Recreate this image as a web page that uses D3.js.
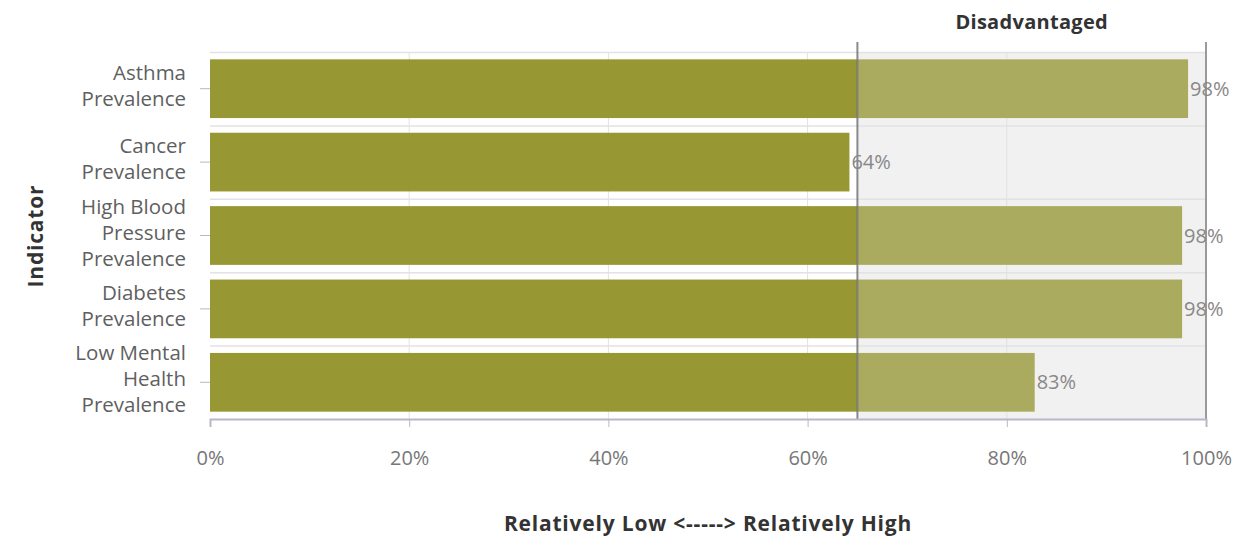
<!DOCTYPE html>
<html><head><meta charset="utf-8">
<script src="https://cdn.jsdelivr.net/npm/d3@7"></script>
<style>
html,body{margin:0;padding:0;background:#fff;}
svg{display:block;font-family:"Open Sans", Lato, sans-serif;}
</style></head>
<body>
<svg id="chart" width="1245" height="539"></svg>
<script>
const categories = [["Asthma","Prevalence"],["Cancer","Prevalence"],["High Blood","Pressure","Prevalence"],["Diabetes","Prevalence"],["Low Mental","Health","Prevalence"]];
const categoryIds = ["Asthma Prevalence","Cancer Prevalence","High Blood Pressure Prevalence","Diabetes Prevalence","Low Mental Health Prevalence"];
const values = [98.2, 64.2, 97.6, 97.6, 82.8];
const xTicks = [0, 20, 40, 60, 80, 100];
const threshold = 65;
const bandLabel = "Disadvantaged";
const xTitle = "Relatively Low <-----> Relatively High";
const yTitle = "Indicator";

const W = 1245, H = 539;
const m = {left: 210, right: 39, top: 52, bottom: 120};
const svg = d3.select("#chart");
const x = d3.scaleLinear().domain([0, 100]).range([m.left, W - m.right]);
const y = d3.scaleBand().domain(categoryIds).range([m.top, H - m.bottom]).paddingInner(0.2).paddingOuter(0.1);
const yOuter = d3.scaleBand().domain(categoryIds).range([m.top, H - m.bottom]);

// disadvantaged band background
svg.append("rect").attr("x", x(threshold)).attr("y", m.top).attr("width", x(100) - x(threshold))
  .attr("height", H - m.bottom - m.top).attr("fill", "#f1f1f1");

// vertical grid
svg.append("g").selectAll("line").data(xTicks.slice(1, -1)).join("line")
  .attr("x1", d => x(d)).attr("x2", d => x(d)).attr("y1", m.top).attr("y2", H - m.bottom)
  .attr("stroke", "#e2e2e2").attr("stroke-width", 1);
// horizontal grid at band edges
const edges = categoryIds.map(c => yOuter(c));
svg.append("g").selectAll("line").data(edges).join("line")
  .attr("x1", m.left).attr("x2", x(100)).attr("y1", d => d + 0.5).attr("y2", d => d + 0.5)
  .attr("stroke", "#e2e2e2").attr("stroke-width", 1.5);

// bars dark part
const rows = categoryIds.map((c, i) => ({c, v: values[i]}));
svg.append("g").selectAll("rect").data(rows).join("rect")
  .attr("x", x(0)).attr("y", d => y(d.c)).attr("height", y.bandwidth())
  .attr("width", d => x(Math.min(d.v, threshold)) - x(0)).attr("fill", "#979733");
// bars light part
svg.append("g").selectAll("rect").data(rows.filter(d => d.v > threshold)).join("rect")
  .attr("x", x(threshold)).attr("y", d => y(d.c)).attr("height", y.bandwidth())
  .attr("width", d => x(d.v) - x(threshold)).attr("fill", "#abab60");

// threshold line & 100 line
svg.append("line").attr("x1", x(threshold)).attr("x2", x(threshold)).attr("y1", 42).attr("y2", H - m.bottom)
  .attr("stroke", "#777").attr("stroke-width", 2).attr("opacity", 0.85);
svg.append("line").attr("x1", x(100)).attr("x2", x(100)).attr("y1", 42).attr("y2", H - m.bottom)
  .attr("stroke", "#9a9a9a").attr("stroke-width", 2);

// band label
svg.append("text").attr("x", (x(threshold) + x(100)) / 2).attr("y", 29).attr("text-anchor", "middle")
  .attr("font-size", 20).attr("font-weight", "bold").attr("letter-spacing", 0.3).attr("fill", "#333").text(bandLabel);

// x axis
const xAxis = svg.append("g").attr("transform", `translate(0,${H - m.bottom})`)
  .call(d3.axisBottom(x).tickValues(xTicks).tickFormat(d => d + "%").tickSize(8).tickPadding(24));
xAxis.select(".domain").attr("stroke", "#b8b8cc").attr("stroke-width", 2);
xAxis.selectAll(".tick line").attr("stroke", "#b8b8c4");
xAxis.selectAll(".tick text").attr("font-size", 20).attr("fill", "#777").attr("font-family", "'Open Sans', sans-serif");

// y axis
const yAxis = svg.append("g").attr("transform", `translate(${m.left},0)`)
  .call(d3.axisLeft(y).tickSize(10).tickFormat(""));
yAxis.select(".domain").remove();
yAxis.selectAll(".tick line").attr("stroke", "#b8b8c4");
const lh = 26;
svg.append("g").selectAll("text").data(categoryIds).join("text")
  .attr("text-anchor", "end").attr("font-size", 20.5).attr("fill", "#5f5f5f")
  .each(function(c, i) {
    const lines = categories[i];
    const cy = y(c) + y.bandwidth() / 2 - 3;
    const t = d3.select(this);
    lines.forEach((ln, j) => {
      t.append("tspan").attr("x", 186).attr("y", cy + (j - (lines.length - 1) / 2) * lh + 7).text(ln);
    });
  });

// value labels
svg.append("g").selectAll("text").data(rows).join("text")
  .attr("x", d => x(d.v) + 2).attr("y", d => y(d.c) + y.bandwidth() / 2 + 7)
  .attr("font-size", 20).attr("fill", "#888").text(d => Math.round(d.v) + "%");

// titles
svg.append("text").attr("x", 708).attr("y", 531).attr("text-anchor", "middle")
  .attr("font-size", 21).attr("font-weight", "bold").attr("letter-spacing", 0.8).attr("fill", "#333").text(xTitle);
svg.append("text").attr("transform", "translate(43,236) rotate(-90)").attr("text-anchor", "middle")
  .attr("font-size", 21).attr("font-weight", "bold").attr("letter-spacing", 0.8).attr("fill", "#333").text(yTitle);
</script>
</body></html>
